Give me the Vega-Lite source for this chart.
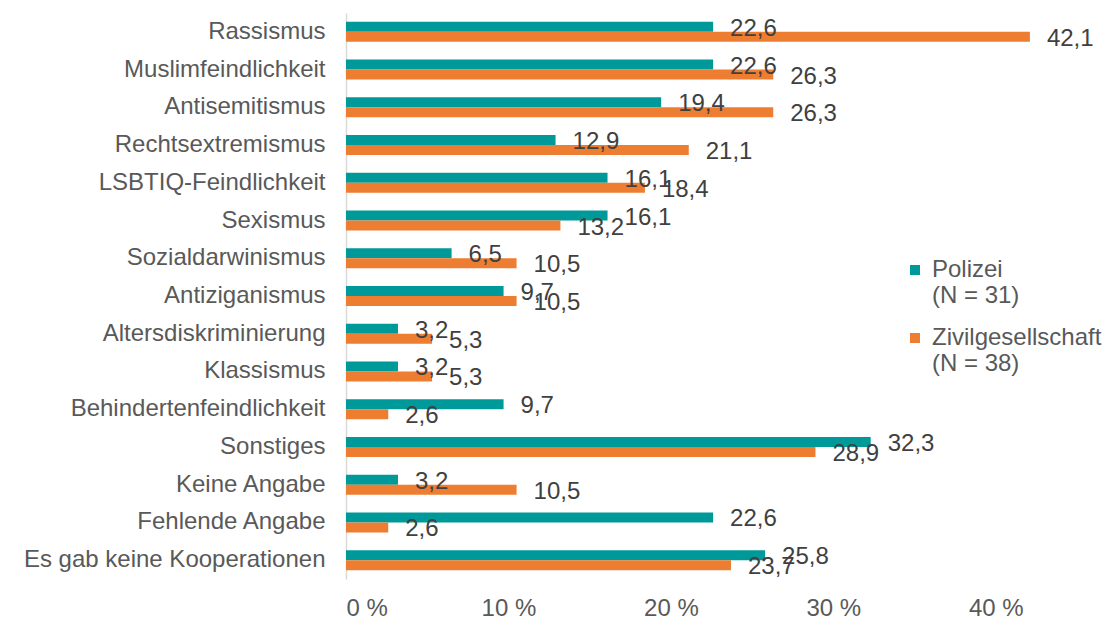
{
  "$schema": "https://vega.github.io/schema/vega-lite/v6.json",
  "width": 731,
  "height": 566,
  "autosize": {"type": "none"},
  "padding": {"left": 346, "top": 13, "right": 36, "bottom": 47},
  "background": "white",
  "config": {
    "locale": {"number": {"decimal": ",", "thousands": ".", "grouping": [3], "currency": ["", " €"]}},
    "font": "Liberation Sans",
    "view": {"stroke": null}
  },
  "data": {
    "values": [
      {"kategorie": "Rassismus", "gruppe": "Polizei", "anteil": 22.6},
      {"kategorie": "Rassismus", "gruppe": "Zivilgesellschaft", "anteil": 42.1},
      {"kategorie": "Muslimfeindlichkeit", "gruppe": "Polizei", "anteil": 22.6},
      {"kategorie": "Muslimfeindlichkeit", "gruppe": "Zivilgesellschaft", "anteil": 26.3},
      {"kategorie": "Antisemitismus", "gruppe": "Polizei", "anteil": 19.4},
      {"kategorie": "Antisemitismus", "gruppe": "Zivilgesellschaft", "anteil": 26.3},
      {"kategorie": "Rechtsextremismus", "gruppe": "Polizei", "anteil": 12.9},
      {"kategorie": "Rechtsextremismus", "gruppe": "Zivilgesellschaft", "anteil": 21.1},
      {"kategorie": "LSBTIQ-Feindlichkeit", "gruppe": "Polizei", "anteil": 16.1},
      {"kategorie": "LSBTIQ-Feindlichkeit", "gruppe": "Zivilgesellschaft", "anteil": 18.4},
      {"kategorie": "Sexismus", "gruppe": "Polizei", "anteil": 16.1},
      {"kategorie": "Sexismus", "gruppe": "Zivilgesellschaft", "anteil": 13.2},
      {"kategorie": "Sozialdarwinismus", "gruppe": "Polizei", "anteil": 6.5},
      {"kategorie": "Sozialdarwinismus", "gruppe": "Zivilgesellschaft", "anteil": 10.5},
      {"kategorie": "Antiziganismus", "gruppe": "Polizei", "anteil": 9.7},
      {"kategorie": "Antiziganismus", "gruppe": "Zivilgesellschaft", "anteil": 10.5},
      {"kategorie": "Altersdiskriminierung", "gruppe": "Polizei", "anteil": 3.2},
      {"kategorie": "Altersdiskriminierung", "gruppe": "Zivilgesellschaft", "anteil": 5.3},
      {"kategorie": "Klassismus", "gruppe": "Polizei", "anteil": 3.2},
      {"kategorie": "Klassismus", "gruppe": "Zivilgesellschaft", "anteil": 5.3},
      {"kategorie": "Behindertenfeindlichkeit", "gruppe": "Polizei", "anteil": 9.7},
      {"kategorie": "Behindertenfeindlichkeit", "gruppe": "Zivilgesellschaft", "anteil": 2.6},
      {"kategorie": "Sonstiges", "gruppe": "Polizei", "anteil": 32.3},
      {"kategorie": "Sonstiges", "gruppe": "Zivilgesellschaft", "anteil": 28.9},
      {"kategorie": "Keine Angabe", "gruppe": "Polizei", "anteil": 3.2},
      {"kategorie": "Keine Angabe", "gruppe": "Zivilgesellschaft", "anteil": 10.5},
      {"kategorie": "Fehlende Angabe", "gruppe": "Polizei", "anteil": 22.6},
      {"kategorie": "Fehlende Angabe", "gruppe": "Zivilgesellschaft", "anteil": 2.6},
      {"kategorie": "Es gab keine Kooperationen", "gruppe": "Polizei", "anteil": 25.8},
      {"kategorie": "Es gab keine Kooperationen", "gruppe": "Zivilgesellschaft", "anteil": 23.7}
    ]
  },
  "encoding": {
    "y": {
      "field": "kategorie",
      "type": "nominal",
      "sort": null,
      "scale": {"paddingInner": 0.47, "paddingOuter": 0.235},
      "axis": {
        "title": null,
        "labelFontSize": 24,
        "labelColor": "#595959",
        "ticks": false,
        "domainColor": "#D9D9D9",
        "domainWidth": 1.5,
        "labelPadding": 21,
        "labelLimit": 400
      }
    },
    "yOffset": {"field": "gruppe", "type": "nominal", "sort": ["Polizei", "Zivilgesellschaft"]},
    "x": {
      "field": "anteil",
      "type": "quantitative",
      "scale": {"domain": [0, 45], "nice": false},
      "axis": {
        "title": null,
        "values": [0, 10, 20, 30, 40],
        "labelExpr": "datum.value + ' %'",
        "grid": false,
        "domain": false,
        "ticks": false,
        "labelFontSize": 24,
        "labelColor": "#595959",
        "labelPadding": 17
      }
    }
  },
  "layer": [
    {
      "mark": {"type": "bar"},
      "encoding": {
        "color": {
          "field": "gruppe",
          "type": "nominal",
          "scale": {"domain": ["Polizei", "Zivilgesellschaft"], "range": ["#009999", "#ED7D31"]},
          "legend": {
            "title": null,
            "orient": "none",
            "legendX": 557,
            "legendY": 245,
            "symbolType": "square",
            "symbolSize": 100,
            "symbolStrokeWidth": 0,
            "labelFontSize": 24,
            "labelColor": "#595959",
            "labelOffset": 5,
            "labelLimit": 300,
            "rowPadding": 18,
            "labelExpr": "datum.label == 'Polizei' ? ['Polizei', '(N = 31)'] : ['Zivilgesellschaft', '(N = 38)']"
          }
        }
      }
    },
    {
      "mark": {"type": "text", "align": "left", "baseline": "middle", "dx": 17, "dy": 2, "fontSize": 24, "color": "#404040"},
      "encoding": {"text": {"field": "anteil", "type": "quantitative", "format": ".1f"}}
    }
  ]
}
